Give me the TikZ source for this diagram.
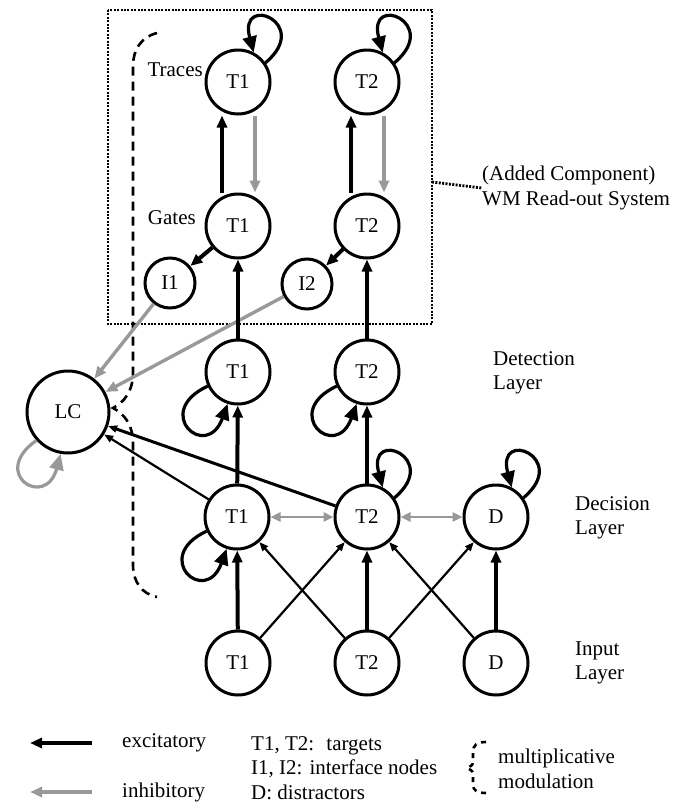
\documentclass[tikz,border=0pt]{standalone}
\usepackage{fontspec}
\setmainfont{Liberation Serif}
\usetikzlibrary{arrows.meta}

\definecolor{inhcol}{gray}{0.6}

\tikzset{
	unit/.style={circle, draw, line width=3pt, minimum size=64pt, inner sep=0pt},
	exc/.style={-{Triangle[length=12pt,width=10pt]}, line width=4pt},
	excthin/.style={-{Triangle[length=9pt,width=7pt]}, line width=2.2pt},
	inh/.style={-{Triangle[length=12pt,width=10pt]}, line width=3.4pt, inhcol},
	inhboth/.style={{Triangle[length=10pt,width=9pt]}-{Triangle[length=10pt,width=9pt]}, line width=2.8pt, inhcol},
	selfloop/.style={-{Triangle[length=16pt,width=14pt]}, line width=3.2pt, distance=62pt},
	brace/.style={line width=2.6pt, dash pattern=on 9pt off 6pt},
	wmbox/.style={line width=2.8pt, dash pattern=on 2pt off 1.4pt},
	lbl/.style={align=left, inner sep=0pt}
}

\begin{document}
\begin{tikzpicture}[x=1pt, y=1pt, font=\fontsize{21}{24.5}\selectfont]
	\useasboundingbox (0,0) rectangle (686,-809);

	% WM read-out system
	\draw[wmbox] (108,-10) rectangle (432,-324);
	\coordinate (boxE) at (432,-182);
	\node[lbl, anchor=west] (wm) at (482,-188) {(Added Component)\\WM Read-out System};
	\draw[wmbox] (boxE) -- (wm.west);

	\node[unit] (trT1) at (238,-82) {T1};
	\node[unit] (trT2) at (367,-82) {T2};
	\node[unit] (gaT1) at (238,-226) {T1};
	\node[unit] (gaT2) at (367,-226) {T2};
	\node[unit, minimum size=50pt] (iI1) at (170,-283) {I1};
	\node[unit, minimum size=50pt] (iI2) at (307,-284) {I2};
	\node[lbl, anchor=east] at (203,-70) {Traces};
	\node[lbl, anchor=east] at (196,-218) {Gates};

	% layers
	\node[unit] (deT1) at (238,-372) {T1};
	\node[unit] (deT2) at (367,-372) {T2};
	\node[unit] (dcT1) at (237,-517) {T1};
	\node[unit] (dcT2) at (367,-517) {T2};
	\node[unit] (dcD)  at (496,-517) {D};
	\node[unit] (inT1) at (238,-663) {T1};
	\node[unit] (inT2) at (367,-663) {T2};
	\node[unit] (inD)  at (496,-663) {D};
	\node[unit, minimum size=82pt] (lc) at (68,-412) {LC};

	\node[lbl, anchor=west] at (493,-373) {Detection\\Layer};
	\node[lbl, anchor=west] at (575,-518) {Decision\\Layer};
	\node[lbl, anchor=west] at (575,-663) {Input\\Layer};

	% modulation of LC
	\draw[brace] (157,-33) .. controls (141,-37) and (133,-50) .. (133,-66) -- (133,-372)
		.. controls (133,-392) and (124,-402) .. (113,-408)
		.. controls (124,-414) and (133,-424) .. (133,-444) -- (133,-565)
		.. controls (133,-582) and (142,-594) .. (157,-597);

	% connections
	\draw[exc] ([xshift=-16pt]gaT1.north) -- ([xshift=-16pt]trT1.south);
	\draw[inh] ([xshift=17pt]trT1.south) -- ([xshift=17pt]gaT1.north);
	\draw[exc] ([xshift=-16pt]gaT2.north) -- ([xshift=-16pt]trT2.south);
	\draw[inh] ([xshift=17pt]trT2.south) -- ([xshift=17pt]gaT2.north);
	\draw[exc] (gaT1) -- (iI1);
	\draw[exc] (gaT2) -- (iI2);
	\draw[inh] (iI1) -- (lc);
	\draw[inh] (iI2) -- (lc);
	\draw[exc] (deT1) -- (gaT1);
	\draw[exc] (deT2) -- (gaT2);
	\draw[exc] (dcT1) -- (deT1);
	\draw[exc] (dcT2) -- (deT2);
	\draw[excthin] (dcT1) -- (lc);
	\draw[excthin, line width=3pt] (dcT2) -- (lc);
	\draw[inhboth] (dcT1) -- (dcT2);
	\draw[inhboth] (dcT2) -- (dcD);
	\draw[exc] (inT1) -- (dcT1);
	\draw[exc] (inT2) -- (dcT2);
	\draw[exc] (inD) -- (dcD);
	\draw[excthin] (inT1) -- (dcT2);
	\draw[excthin] (inT2) -- (dcT1);
	\draw[excthin] (inT2) -- (dcD);
	\draw[excthin] (inD) -- (dcT2);

	% self loops
	\draw[selfloop] (trT1.35) to[out=40, in=105] (trT1.62);
	\draw[selfloop] (trT2.35) to[out=40, in=105] (trT2.62);
	\draw[selfloop] (dcT2.35) to[out=40, in=105] (dcT2.62);
	\draw[selfloop] (dcD.35) to[out=40, in=105] (dcD.62);
	\draw[selfloop] (deT1.205) to[out=205, in=250] (deT1.252);
	\draw[selfloop] (deT2.205) to[out=205, in=250] (deT2.252);
	\draw[selfloop] (dcT1.205) to[out=205, in=250] (dcT1.252);
	\draw[selfloop, inhcol, distance=58pt] (lc.222) to[out=215, in=255] (lc.260);

	% legend
	\coordinate (exA) at (92,-743);
	\coordinate (exB) at (30,-743);
	\coordinate (ihA) at (92,-792);
	\coordinate (ihB) at (30,-792);
	\draw[exc, line width=3.6pt] (exA) -- (exB);
	\draw[inh, line width=3.6pt] (ihA) -- (ihB);
	\node[lbl, anchor=west] at (122,-743) {excitatory};
	\node[lbl, anchor=west] at (122,-792) {inhibitory};
	\node[lbl, anchor=west] at (251,-768) {T1, T2:~ targets\\I1, I2: interface nodes\\D: distractors};
	\draw[brace, dash pattern=on 5pt off 5pt] (486,-742) .. controls (477,-742) and (473,-745) .. (473,-752) -- (473,-762)
		.. controls (473,-765) and (470,-767) .. (467,-768)
		.. controls (470,-769) and (473,-771) .. (473,-774) -- (473,-785)
		.. controls (473,-790) and (477,-793) .. (486,-793);
	\node[lbl, anchor=west] at (498,-769) {multiplicative\\modulation};
\end{tikzpicture}
\end{document}
